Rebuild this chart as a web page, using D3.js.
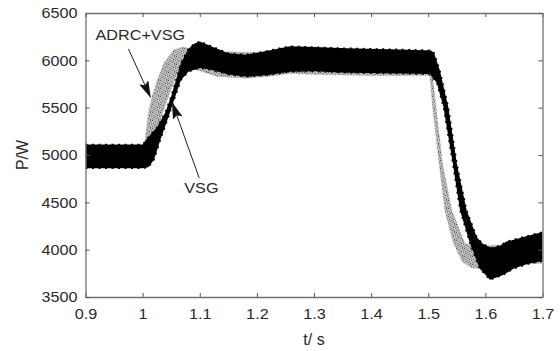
<!DOCTYPE html>
<html><head><meta charset="utf-8">
<script src="https://cdn.jsdelivr.net/npm/d3@7"></script>
<style>
body{margin:0;background:#fff}
svg text{font-family:"Liberation Sans",Arial,sans-serif;fill:#2a2a2a}
.xt text{transform-box:fill-box;transform-origin:center;transform:scaleX(1.08)}
.yt text{transform-box:fill-box;transform-origin:right center;transform:scaleX(1.08)}
.ann{transform-box:fill-box;transform-origin:left center;transform:scaleX(1.08)}
</style></head>
<body><svg id="c" width="560" height="351"></svg>
<script>
// ---- data ----
const xTicks = [0.9, 1, 1.1, 1.2, 1.3, 1.4, 1.5, 1.6, 1.7];
const yTicks = [3500, 4000, 4500, 5000, 5500, 6000, 6500];

// VSG (black band): upper / lower envelopes [t, P]
const vsgUpper = [[0.9,5110],[1.0,5110],[1.005,5150],[1.01,5190],[1.025,5290],[1.039,5441],[1.05,5620],[1.067,5970],[1.08,6120],[1.09,6175],[1.1,6200],[1.12,6150],[1.15,6075],[1.18,6060],[1.21,6090],[1.258,6150],[1.3,6140],[1.357,6127],[1.45,6115],[1.505,6105],[1.51,6080],[1.52,5900],[1.535,5511],[1.55,4910],[1.567,4420],[1.585,4130],[1.596,4060],[1.61,4020],[1.625,4040],[1.637,4085],[1.648,4103],[1.67,4140],[1.7,4187]];
const vsgLower = [[0.9,4860],[1.0,4860],[1.01,4870],[1.02,4950],[1.031,5159],[1.045,5400],[1.055,5580],[1.067,5790],[1.08,5880],[1.1,5920],[1.12,5900],[1.15,5850],[1.183,5827],[1.22,5845],[1.258,5880],[1.3,5885],[1.357,5870],[1.45,5860],[1.503,5855],[1.515,5760],[1.5265,5511],[1.543,4910],[1.5555,4420],[1.573,4068],[1.59,3800],[1.608,3681],[1.63,3730],[1.65,3800],[1.675,3850],[1.7,3880]];

// ADRC+VSG (gray band)
const adrcUpper = [[0.9,5100],[1.0,5100],[1.004,5150],[1.01,5441],[1.0166,5616],[1.025,5780],[1.037,5969],[1.054,6109],[1.07,6140],[1.09,6120],[1.12,6080],[1.15,6090],[1.18,6085],[1.21,6080],[1.26,6120],[1.3,6110],[1.4,6095],[1.503,6085],[1.5135,5511],[1.525,4910],[1.541,4420],[1.564,4068],[1.58,4040],[1.6,4040],[1.65,4060],[1.7,4080]];
const adrcLower = [[0.9,4870],[1.0,4870],[1.01,4900],[1.02,5150],[1.035,5441],[1.045,5620],[1.06,5850],[1.08,5920],[1.1,5890],[1.13,5830],[1.18,5810],[1.22,5830],[1.26,5860],[1.3,5850],[1.4,5840],[1.5,5840],[1.503,5830],[1.5075,5511],[1.519,4910],[1.529,4420],[1.544,4068],[1.56,3870],[1.575,3810],[1.59,3800],[1.62,3830],[1.65,3850],[1.7,3855]];

// annotations: label anchor, arrow tail, arrow tip (data coords)
const annLabels = ["ADRC+VSG", "VSG"];
const annText = [[0.9175,6215],[1.073,4600]];
const annTail = [[0.9752,6120],[1.099,4758]];
const annTip  = [[1.0136,5613],[1.052,5550]];

// ---- chart ----
const m = {l:85.5, r:542.5, t:13, b:297};
const x = d3.scaleLinear().domain([0.9,1.7]).range([m.l,m.r]);
const y = d3.scaleLinear().domain([3500,6500]).range([m.b,m.t]);
const svg = d3.select("#c");
const defs = svg.append("defs");
defs.append("clipPath").attr("id","clip").append("rect")
  .attr("x",m.l).attr("y",m.t).attr("width",m.r-m.l).attr("height",m.b-m.t);
defs.append("marker").attr("id","ah").attr("viewBox","0 -5 17 10")
  .attr("refX",16).attr("refY",0).attr("markerWidth",17).attr("markerHeight",10)
  .attr("markerUnits","userSpaceOnUse").attr("orient","auto")
  .append("path").attr("d","M0,-5L17,0L0,5L3,0Z").attr("fill","#111");
// irregular speckle texture for the gray trace (pure styling)
const pat = defs.append("pattern").attr("id","speck").attr("patternUnits","userSpaceOnUse")
  .attr("width",8).attr("height",8);
pat.append("rect").attr("width",8).attr("height",8).attr("fill","#bcbcbc");
const specks = "0,0,#555 3,1,#777 6,0,#666 1,3,#6a6a6a 5,3,#555 7,4,#888 2,5,#5e5e5e 4,6,#777 0,6,#808080 6,7,#5a5a5a 3,4,#8a8a8a 7,2,#707070 1,7,#999 5,5,#9a9a9a 4,2,#a0a0a0 2,1,#9c9c9c";
specks.split(" ").forEach(s=>{const [px,py,c]=s.split(",");
  pat.append("rect").attr("x",+px).attr("y",+py).attr("width",1).attr("height",1).attr("fill",c);});

const line = d3.line().x(d=>x(d[0])).y(d=>y(d[1]));
const band = (up,lo) => line(up.concat(lo.slice().reverse())) + "Z";

const g = svg.append("g").attr("clip-path","url(#clip)");
g.append("path").attr("d",band(adrcUpper,adrcLower)).attr("fill","url(#speck)")
  .attr("stroke","#9a9a9a").attr("stroke-width",0.8).attr("stroke-dasharray","1,2");
g.append("path").attr("d",band(vsgUpper,vsgLower)).attr("fill","#000");
[vsgUpper, vsgLower].forEach(e => g.append("path").attr("d",line(e)).attr("fill","none")
  .attr("stroke","#000").attr("stroke-width",1.6).attr("stroke-dasharray","2,4.5"));

// axes (frame with inward ticks)
const fmt = d => String(d);
const axB = svg.append("g").attr("class","xt").attr("transform",`translate(0,${m.b})`)
  .call(d3.axisBottom(x).tickValues(xTicks).tickSize(-4).tickSizeOuter(0).tickPadding(11).tickFormat(fmt));
const axL = svg.append("g").attr("class","yt").attr("transform",`translate(${m.l},0)`)
  .call(d3.axisLeft(y).tickValues(yTicks).tickSize(-4).tickSizeOuter(0).tickPadding(8).tickFormat(fmt));
const axT = svg.append("g").attr("transform",`translate(0,${m.t})`)
  .call(d3.axisTop(x).tickValues(xTicks).tickSize(-4).tickSizeOuter(0).tickFormat(""));
const axR = svg.append("g").attr("transform",`translate(${m.r},0)`)
  .call(d3.axisRight(y).tickValues(yTicks).tickSize(-4).tickSizeOuter(0).tickFormat(""));
[axB,axL,axT,axR].forEach(a=>{
  a.select(".domain").attr("stroke","#707070").attr("stroke-width",1.3);
  a.selectAll(".tick line").attr("stroke","#555");
  a.selectAll(".tick text").attr("font-size",15).attr("fill","#2a2a2a");
});

// annotations
annLabels.forEach((s,i)=>{
  svg.append("line").attr("x1",x(annTail[i][0])).attr("y1",y(annTail[i][1]))
    .attr("x2",x(annTip[i][0])).attr("y2",y(annTip[i][1]))
    .attr("stroke","#222").attr("stroke-width",1).attr("marker-end","url(#ah)");
  svg.append("text").attr("class","ann").attr("x",x(annText[i][0])).attr("y",y(annText[i][1]))
    .attr("font-size",15).text(s);
});

// axis titles
svg.append("text").attr("x",(m.l+m.r)/2).attr("y",345).attr("text-anchor","middle")
  .attr("font-size",16).text("t/ s");
svg.append("text").attr("transform",`translate(28,${(m.t+m.b)/2}) rotate(-90)`)
  .attr("text-anchor","middle").attr("font-size",16).text("P/W");
</script></body></html>
